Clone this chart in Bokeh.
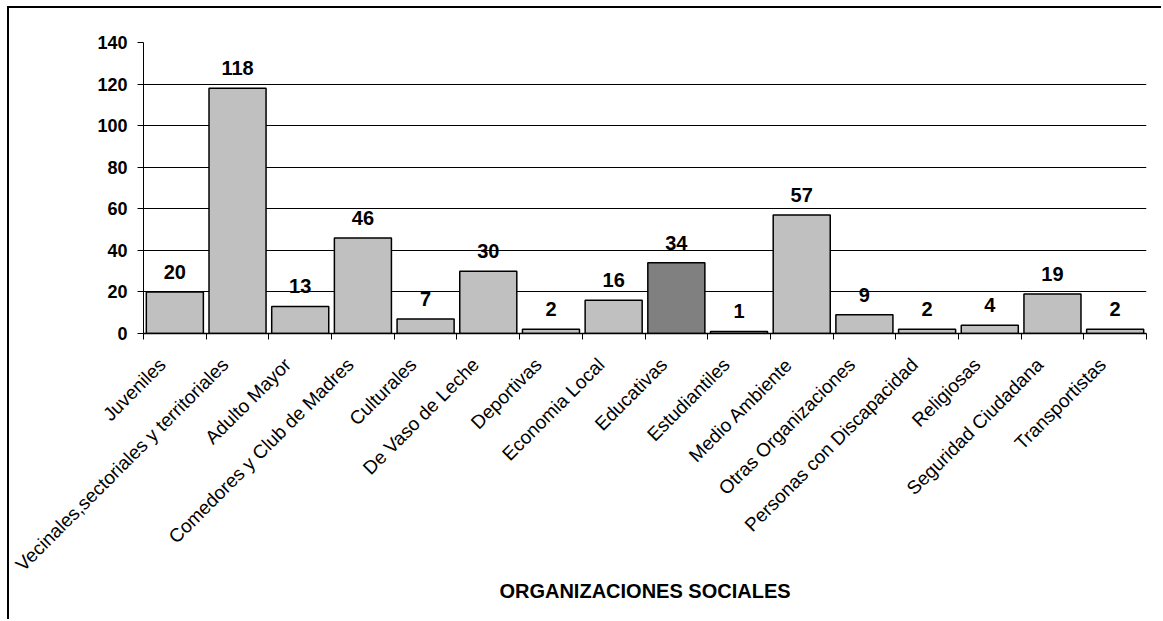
from math import pi
from bokeh.plotting import figure
from bokeh.models import ColumnDataSource, FixedTicker, Range1d
from bokeh.core.properties import value
from bokeh.embed import file_html
from bokeh.resources import INLINE

categories = [
    "Juveniles",
    "Vecinales,sectoriales y territoriales",
    "Adulto Mayor",
    "Comedores y Club de Madres",
    "Culturales",
    "De Vaso de Leche",
    "Deportivas",
    "Economia Local",
    "Educativas",
    "Estudiantiles",
    "Medio Ambiente",
    "Otras Organizaciones",
    "Personas con Discapacidad",
    "Religiosas",
    "Seguridad Ciudadana",
    "Transportistas",
]
counts = [20, 118, 13, 46, 7, 30, 2, 16, 34, 1, 57, 9, 2, 4, 19, 2]
highlight = "Educativas"
y_ticks = [0, 20, 40, 60, 80, 100, 120, 140]

FONT = "Liberation Sans"

xs = [i + 0.5 for i in range(len(categories))]
label_pos = [x - 0.2 for x in xs]   # slight shift so the rotated label ends left of centre
fills = ["#808080" if c == highlight else "#C0C0C0" for c in categories]
src = ColumnDataSource(dict(x=xs, top=counts, fill=fills,
                            lbl=[str(v) for v in counts]))

p = figure(width=1154, height=613, output_backend="svg", toolbar_location=None,
           x_range=Range1d(0, len(categories)), y_range=Range1d(0, 140),
           min_border_left=134, min_border_right=17, min_border_top=34,
           min_border_bottom=288,
           styles={"margin-left": "7px", "margin-top": "6px",
                   "border-left": "2px solid black", "border-top": "2px solid black"})
p.outline_line_color = None
p.background_fill_color = "white"
p.border_fill_color = "white"

p.vbar(x="x", top="top", bottom=0, width=0.91, fill_color="fill",
       line_color="black", line_width=1.5, source=src)

p.text(x="x", y="top", text="lbl", source=src, text_align="center",
       text_baseline="bottom", y_offset=-13, text_font=value(FONT),
       text_font_size="20px", text_font_style="bold", text_color="black")

# y axis
p.yaxis.ticker = FixedTicker(ticks=y_ticks)
p.yaxis.axis_line_color = "black"
p.yaxis.axis_line_width = 1
p.yaxis.major_tick_out = 6
p.yaxis.major_tick_in = 0
p.yaxis.minor_tick_line_color = None
p.yaxis.major_label_text_font = FONT
p.yaxis.major_label_text_font_size = "18px"
p.yaxis.major_label_text_font_style = "bold"
p.yaxis.major_label_text_color = "black"
p.yaxis.major_label_standoff = 10

p.ygrid.ticker = FixedTicker(ticks=y_ticks)
p.ygrid.grid_line_color = "black"
p.ygrid.grid_line_width = 1
p.xgrid.grid_line_color = None

# x axis: labels near centers, ticks between categories
p.xaxis.ticker = FixedTicker(ticks=label_pos, minor_ticks=list(range(len(categories) + 1)))
p.xaxis.major_label_overrides = {x: c for x, c in zip(label_pos, categories)}
p.xaxis.major_label_orientation = pi / 4
p.xaxis.major_tick_out = 0
p.xaxis.major_tick_in = 0
p.xaxis.minor_tick_out = 6
p.xaxis.minor_tick_in = 0
p.xaxis.minor_tick_line_color = "black"
p.xaxis.axis_line_color = "black"
p.xaxis.axis_line_width = 1.5
p.xaxis.major_label_text_font = FONT
p.xaxis.major_label_text_font_size = "19px"
p.xaxis.major_label_text_color = "black"
p.xaxis.major_label_standoff = 22
p.xaxis.axis_label = "ORGANIZACIONES SOCIALES"
p.xaxis.axis_label_text_font = FONT
p.xaxis.axis_label_text_font_size = "20px"
p.xaxis.axis_label_text_font_style = "bold"
p.xaxis.axis_label_text_color = "black"
p.xaxis.axis_label_standoff = -5

open("out.html", "w").write(file_html(p, INLINE))
